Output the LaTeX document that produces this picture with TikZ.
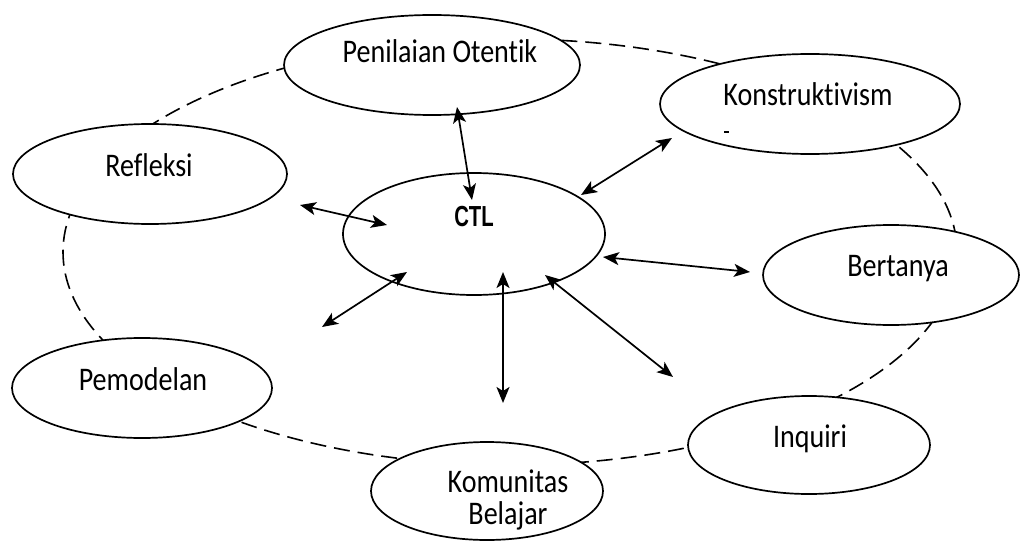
\documentclass[tikz,border=0pt]{standalone}
\usepackage{fontspec}
\setmainfont{Carlito}[FakeStretch=0.85,Ligatures=NoCommon]
\newfontfamily\ctlfont{Liberation Sans}[FakeStretch=0.7]
\usetikzlibrary{shapes.geometric,arrows.meta}
\begin{document}
\begin{tikzpicture}[x=1pt,y=-1pt,
  oval/.style={ellipse,draw,line width=1.7pt,fill=white,inner sep=0pt},
  lbl/.style={anchor=base,font=\fontsize{33}{34}\selectfont},
  link/.style={line width=1.7pt,{Stealth[length=16pt,width=13pt,inset=4pt]}-{Stealth[length=16pt,width=13pt,inset=4pt]}},
  ring/.style={line width=1.6pt,dash pattern=on 16pt off 8pt}]
\useasboundingbox (0,0) rectangle (1022,559);
% dashed ring
\draw[ring] (510,252) ellipse [x radius=447, y radius=213];
% ovals
\node[oval,minimum width=296pt,minimum height=100pt] (pen) at (432,65) {};
\node[oval,minimum width=300pt,minimum height=100pt] (kon) at (810,104) {};
\node[oval,minimum width=274pt,minimum height=100pt] (ref) at (150,174) {};
\node[oval,minimum width=262pt,minimum height=122pt] (ctl) at (474,234) {};
\node[oval,minimum width=256pt,minimum height=100pt] (ber) at (891,275) {};
\node[oval,minimum width=260pt,minimum height=100pt] (pem) at (142,388) {};
\node[oval,minimum width=242pt,minimum height=98pt] (inq) at (809,445) {};
\node[oval,minimum width=232pt,minimum height=98pt] (kom) at (487,491) {};
% labels
\node[lbl] (tpen) at (440,63) {Penilaian Otentik};
\node[lbl] (tkon) at (808,106) {Konstruktivism};
\node[lbl] (tref) at (149,176) {Refleksi};
\node[lbl] (tber) at (898,276) {Bertanya};
\node[lbl] (tpem) at (143,390) {Pemodelan};
\node[lbl] (tinq) at (810,447) {Inquiri};
\node[font=\fontsize{33}{32}\selectfont,align=center] (tkom) at (508,500) {Komunitas\\Belajar};
\node[anchor=base,font=\ctlfont\bfseries\fontsize{29}{30}\selectfont] (tctl) at (474,226) {CTL};
\draw[line width=1.2pt] (724,132) -- (729,132);
% arrow end points
\coordinate (a1) at (457,107); \coordinate (b1) at (472,200);
\coordinate (a2) at (672,138); \coordinate (b2) at (581,195);
\coordinate (a3) at (603,257); \coordinate (b3) at (750,272);
\coordinate (a4) at (545,275); \coordinate (b4) at (673,377);
\coordinate (a5) at (503,272); \coordinate (b5) at (503,403);
\coordinate (a6) at (407,272); \coordinate (b6) at (322,327);
\coordinate (a7) at (300,205); \coordinate (b7) at (387,225);
\draw[link] (a1) -- (b1);
\draw[link] (a2) -- (b2);
\draw[link] (a3) -- (b3);
\draw[link] (a4) -- (b4);
\draw[link] (a5) -- (b5);
\draw[link] (a6) -- (b6);
\draw[link] (a7) -- (b7);
\end{tikzpicture}
\end{document}
